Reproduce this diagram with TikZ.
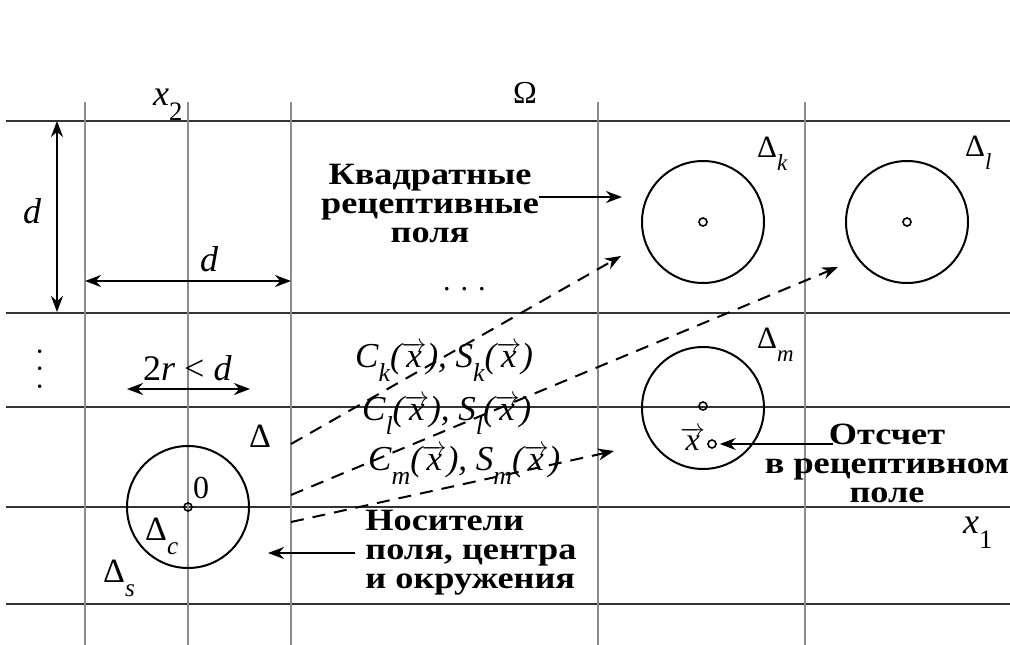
\documentclass[tikz,border=0pt]{standalone}
\usepackage{fontspec}
\setmainfont{Liberation Serif}
\newfontfamily\notefont{Liberation Serif Bold}[FakeStretch=1.17]
\usetikzlibrary{arrows.meta}

\newcommand{\sbs}[1]{\raisebox{-0.42em}{\scalebox{0.74}{#1}}}
\newcommand{\vx}{\ensuremath{\overrightarrow{\mbox{\itshape x}}}}

\begin{document}
\begin{tikzpicture}[
x=1pt, y=-1pt,
vline/.style={line width=1.4pt, black!45},
hline/.style={line width=1.4pt, black!80},
rf/.style={circle, draw, line width=2pt, minimum size=122pt, inner sep=0pt},
pnt/.style={circle, draw, line width=1.6pt, minimum size=8pt, inner sep=0pt},
mlab/.style={inner sep=0pt, anchor=base west, font=\fontsize{36}{36}\selectfont\itshape},
glab/.style={inner sep=0pt, anchor=base west, font=\fontsize{31}{31}\selectfont},
note/.style={inner sep=0pt, align=center, font=\fontsize{31}{29}\selectfont\notefont},
dim/.style={{Stealth[length=16pt,width=12pt]}-{Stealth[length=16pt,width=12pt]}, line width=2pt},
ptr/.style={-{Stealth[length=16pt,width=12pt]}, line width=2pt},
link/.style={ptr, dash pattern=on 13pt off 9pt}
]
\useasboundingbox (0,0) rectangle (1010,645);

% grid of the receptive fields
\foreach \y in {121,313,407,507,604}
    \draw[hline] (6,\y) -- (1010,\y);
\foreach \x in {85,188,291,598,805}
    \draw[vline] (\x,102) -- (\x,645);

% fields and their centres
\node[rf] (rfK) at (703,222) {};
\node[rf] (rfL) at (907,222) {};
\node[rf] (rfM) at (703,408) {};
\node[rf] (orig) at (188,507) {};
\node[pnt] (cK) at (703,222) {};
\node[pnt] (cL) at (907,222) {};
\node[pnt] (cM) at (703,406) {};
\node[pnt] (smp) at (712,444) {};
\node[pnt] (c0) at (188,507) {};

% axes and field labels
\node[mlab] (x2) at (153,105) {x\sbs{\upshape 2}};
\node[mlab] (x1) at (963,533) {x\sbs{\upshape 1}};
\node[glab, font=\fontsize{32}{32}\selectfont] (om) at (513,103) {Ω};
\node[glab] (dK) at (757,157) {Δ\sbs{\itshape k}};
\node[glab] (dL) at (965,156) {Δ\sbs{\itshape l}};
\node[glab] (dM) at (757,348) {Δ\sbs{\itshape m}};
\node[glab, font=\fontsize{34}{34}\selectfont] (dA) at (249,447) {Δ};
\node[glab, font=\fontsize{34}{34}\selectfont] (dC) at (145,540) {Δ\sbs{\itshape c}};
\node[glab, font=\fontsize{34}{34}\selectfont] (dS) at (103,582) {Δ\sbs{\itshape s}};
\node[glab, font=\fontsize{32}{32}\selectfont] (zero) at (193,498) {0};
\node[mlab, font=\fontsize{32}{32}\selectfont\itshape] (vx) at (680,450) {\vx};

% sizes
\coordinate (vTop) at (57,121);
\coordinate (vBot) at (57,312);
\draw[dim] (vTop) -- (vBot);
\node[mlab] (dV) at (23,223) {d};
\coordinate (hL) at (85,281);
\coordinate (hR) at (291,281);
\draw[dim] (hL) -- (hR);
\node[mlab] (dH) at (200,271) {d};
\coordinate (rL) at (127,389);
\coordinate (rR) at (250,389);
\draw[dim] (rL) -- (rR);
\node[mlab] (rd) at (143,380) {\upshape 2\itshape r \upshape < \itshape d};
\node[glab, font=\fontsize{30}{30}\selectfont] (hdots) at (443,290) {.\,\,.\,\,.};
\node[glab, font=\fontsize{30}{30}\selectfont, anchor=center] (vdots) at (40,369) {\rotatebox{90}{.\,\,.\,\,.}};

% functions of the fields
\node[mlab, font=\fontsize{35}{35}\selectfont\itshape] (fK) at (355,367) {C\sbs{k}(\vx), S\sbs{k}(\vx)};
\node[mlab, font=\fontsize{35}{35}\selectfont\itshape] (fL) at (362,420) {C\sbs{l}(\vx), S\sbs{l}(\vx)};
\node[mlab, font=\fontsize{35}{35}\selectfont\itshape] (fM) at (368,470) {C\sbs{m}(\vx), S\sbs{m}(\vx)};

% dashed links to the fields
\coordinate (lkA) at (291,444);
\coordinate (lkB) at (291,495);
\coordinate (lkC) at (291,522);
\coordinate (tgK) at (621,256);
\coordinate (tgL) at (838,267);
\coordinate (tgM) at (614,451);
\draw[link] (lkA) -- (tgK);
\draw[link] (lkB) -- (tgL);
\draw[link] (lkC) -- (tgM);

% notes
\node[note] (sqr) at (430,203) {Квадратные\\рецептивные\\поля};
\coordinate (sqrTip) at (622,197);
\draw[ptr] (sqr.east |- sqrTip) -- (sqrTip);
\node[note] (cnt) at (887,463) {Отсчет\\в рецептивном\\поле};
\coordinate (cntFrom) at (833,444);
\draw[ptr, shorten >=3pt] (cntFrom) -- (smp.east);
\node[note, align=left] (car) at (471,553) {Носители\\поля, центра\\и окружения};
\coordinate (carTip) at (268,553);
\draw[ptr] ([xshift=-10pt]car.west |- carTip) -- (carTip);
\end{tikzpicture}
\end{document}
